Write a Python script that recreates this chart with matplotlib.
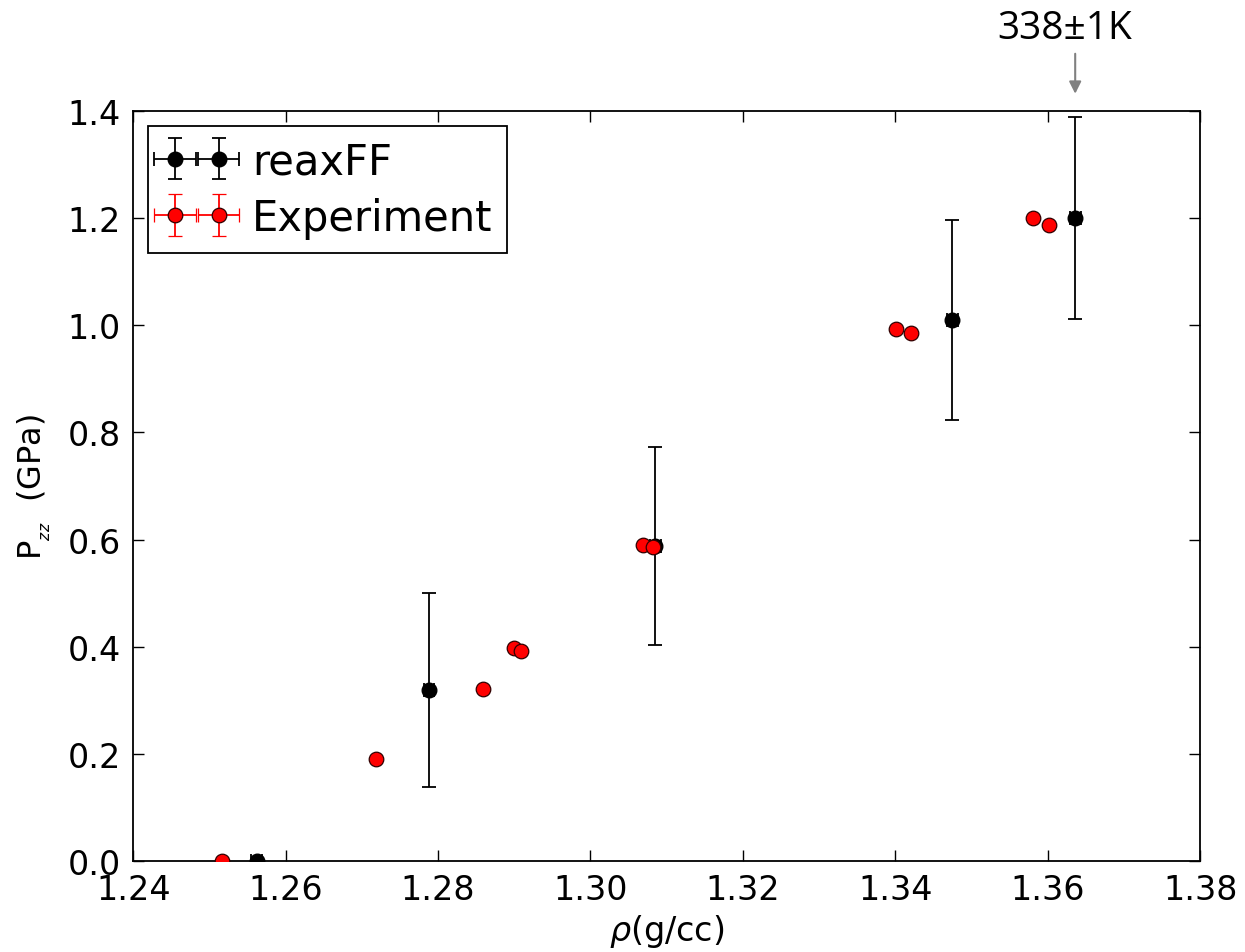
import numpy as np
import matplotlib.pyplot as plt

# reaxFF simulation points
rho_sim = [1.2562, 1.2788, 1.3085, 1.3475, 1.3636]
p_sim = [0.0, 0.319, 0.588, 1.010, 1.200]
p_sim_err = [0.0, 0.181, 0.184, 0.187, 0.189]
rho_sim_err = [0.0007, 0.0007, 0.0007, 0.0007, 0.0007]

# experimental points
rho_exp = [1.2517, 1.2719, 1.2859, 1.2899, 1.2909, 1.3069, 1.3082,
           1.3401, 1.3420, 1.3581, 1.3602]
p_exp = [0.0, 0.190, 0.321, 0.398, 0.392, 0.590, 0.586,
         0.993, 0.986, 1.200, 1.187]

xticks = np.arange(1.24, 1.381, 0.02)
yticks = np.arange(0.0, 1.41, 0.2)

plt.rcParams['font.family'] = 'sans-serif'
plt.rcParams['font.sans-serif'] = ['DejaVu Sans']
plt.rcParams['mathtext.fontset'] = 'dejavusans'

fig = plt.figure(figsize=(12.45, 9.53), dpi=100)
ax = fig.add_axes([0.107, 0.0955, 0.857, 0.787])

ax.errorbar(rho_sim, p_sim, yerr=p_sim_err, xerr=rho_sim_err, fmt='o',
            color='k', ecolor='k', mec='k', ms=10.5, capsize=5,
            elinewidth=1.3, capthick=1.3, label='reaxFF', zorder=3)
ax.errorbar(rho_exp, p_exp, yerr=[0.0]*len(p_exp), xerr=[0.0]*len(p_exp), fmt='o',
            color='red', ecolor='red', mec='#300000', mew=0.9, ms=10.5, capsize=5,
            elinewidth=1.3, capthick=1.3, label='Experiment', zorder=4)

ax.set_xlim(1.24, 1.38)
ax.set_ylim(0.0, 1.4)
ax.set_xticks(xticks)
ax.set_yticks(yticks)
ax.set_xticklabels(['%.2f' % v for v in xticks])
ax.set_yticklabels(['%.1f' % v for v in yticks])
ax.tick_params(direction='in', length=8, width=1, top=True, right=True,
               labelsize=24, pad=9)
for s in ax.spines.values():
    s.set_linewidth(1.3)

ax.set_xlabel(r'$\rho$(g/cc)', fontsize=24, labelpad=4)
ax.set_ylabel(r'P$_{_{zz}}$  (GPa)', fontsize=23, labelpad=10)

leg = ax.legend(loc='upper left', numpoints=2, fontsize=30, fancybox=False,
                handlelength=1.65, handletextpad=0.5, borderpad=0.35,
                labelspacing=0.35, borderaxespad=0.35, framealpha=1)
leg.get_frame().set_edgecolor('k')
leg.get_frame().set_linewidth(1.3)

ax.annotate('', xy=(1.3636, 1.427), xytext=(1.3636, 1.512),
            xycoords='data', annotation_clip=False,
            arrowprops=dict(arrowstyle='-|>', color='grey', lw=1.5,
                            mutation_scale=18))
fig.text(0.855, 0.97, '338\u00b11K', fontsize=28,
         family=['Open Sans', 'DejaVu Sans'], ha='center', va='center')

fig.savefig('out.png', dpi=100)
